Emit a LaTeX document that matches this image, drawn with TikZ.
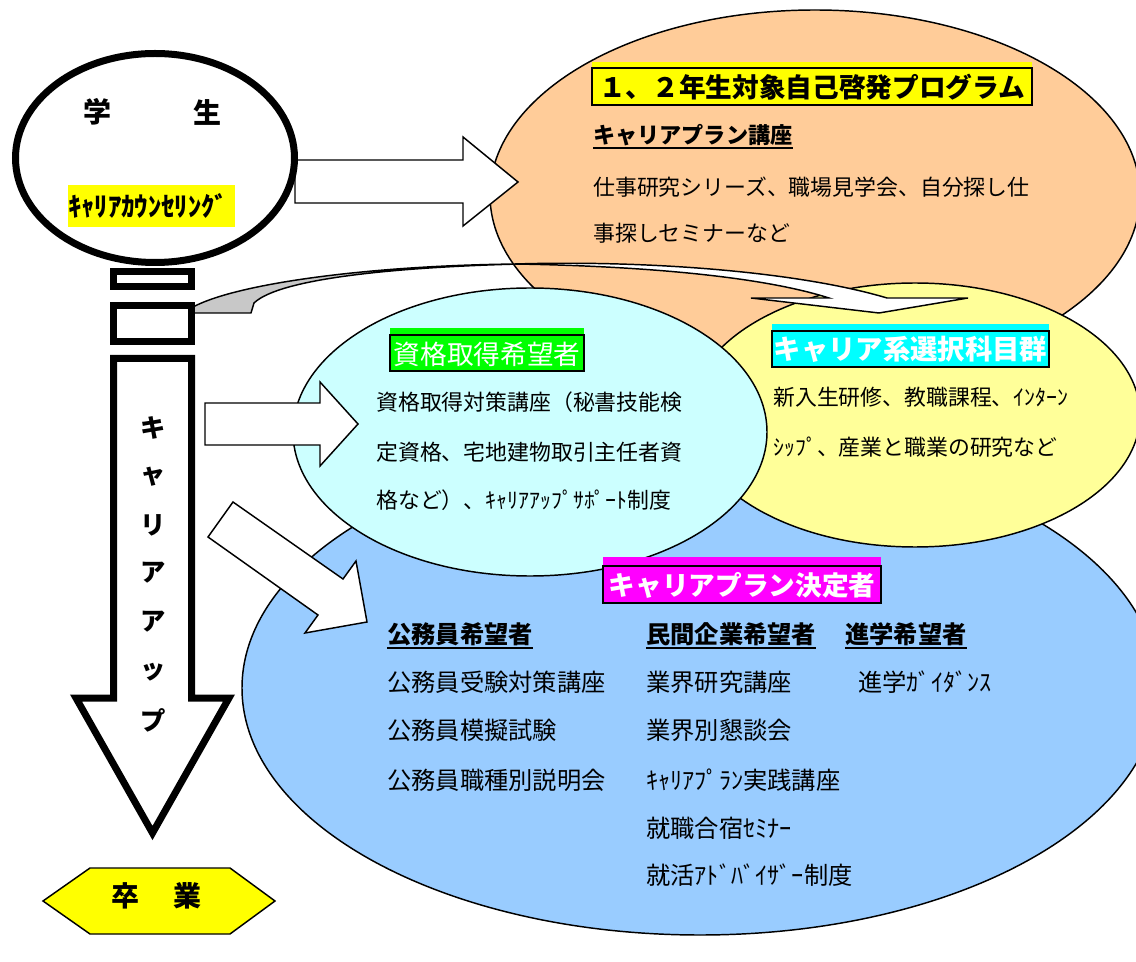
\documentclass[tikz,border=0pt]{standalone}
\usepackage{fontspec}
\setmainfont{Noto Sans CJK JP}
\newcommand\fsz[1]{\fontsize{#1}{#1}\selectfont}
\definecolor{orangeF}{HTML}{FFCC99}
\definecolor{yellowF}{HTML}{FFFF99}
\definecolor{cyanF}{HTML}{CCFFFF}
\definecolor{blueF}{HTML}{99CCFF}
\definecolor{grayF}{HTML}{C8C8C8}
\definecolor{hlYellow}{HTML}{FFFF00}
\definecolor{hlGreen}{HTML}{00FF00}
\definecolor{hlCyan}{HTML}{00FFFF}
\definecolor{hlMagenta}{HTML}{FF00FF}
\tikzset{
  thinln/.style={draw=black, line width=1.1pt},
  thickln/.style={draw=black, line width=5.25pt, line join=miter},
  blockarrow/.style={thinln, fill=white, line join=miter},
  txt/.style={anchor=west, inner sep=0pt, font=\fsz{16.4pt}},
  blue txt/.style={anchor=west, inner sep=0pt, font=\fsz{18.2pt}},
  blue head/.style={anchor=west, inner sep=0pt, font=\fsz{18.2pt}\bfseries},
  title txt/.style={inner sep=0pt, font=\fsz{20pt}\bfseries},
  big txt/.style={inner sep=0pt, font=\fsz{21pt}\bfseries},
  uline/.style={line width=1.5pt},
}
\begin{document}
\begin{tikzpicture}[x=0.75pt,y=-0.75pt]
\useasboundingbox (0,0) rectangle (1136,962);

% ---- ellipses ----
\draw[thinln, fill=orangeF] (815,195) ellipse [x radius=325, y radius=185];
\draw[thinln, fill=blueF] (700,688) ellipse [x radius=458, y radius=247];
\draw[thinln, fill=yellowF] (915,415) ellipse [x radius=225, y radius=132];
\draw[thinln, fill=cyanF] (530,432) ellipse [x radius=237, y radius=144];

% ---- block arrows ----
\draw[blockarrow] (295,160) -- (463,160) -- (463,137) -- (518,182) -- (463,226) -- (463,203) -- (295,203) -- cycle;
\draw[blockarrow] (205,403) -- (320,403) -- (320,382) -- (358,424) -- (320,466) -- (320,445) -- (205,445) -- cycle;
\draw[blockarrow] (233,502) -- (343,579) -- (356,561) -- (367,622) -- (305,633) -- (318,615) -- (208,537) -- cycle;

% ---- curved arrow ----
\draw[thinln, fill=grayF, line join=round] (193,307) .. controls (240,282) and (380,265) .. (520,264)
   .. controls (400,267) and (280,278) .. (254,303) -- (251,313) -- (193,313) -- cycle;
\draw[thinln, fill=white, line join=miter] (515,264) .. controls (650,260) and (800,272) .. (887,298)
   -- (968,298) -- (879,313) -- (751,298) -- (829,298)
   .. controls (760,276) and (640,266) .. (515,264) -- cycle;

% ---- left column: student ----
\draw[thickln, fill=white] (155,158) ellipse [x radius=139.5, y radius=104.5];
\node[big txt] (gaku) at (97,112) {学};
\node[big txt] (sei) at (207,112) {生};
\fill[hlYellow] (68,185) rectangle (235,227);
\node[inner sep=0pt, font=\fsz{20pt}\bfseries] (kc) at (148,206) {ｷｬﾘｱｶｳﾝｾﾘﾝｸﾞ};

\draw[thickln, fill=white] (113.5,271.5) rectangle (191.5,286.5);
\draw[thickln, fill=white] (113.5,305.5) rectangle (191.5,341.5);

\draw[thickln, fill=white] (113.5,358.5) -- (191.5,358.5) -- (191.5,698) -- (229,698)
   -- (152.5,833) -- (76,698) -- (113.5,698) -- cycle;
\node[big txt, font=\fsz{19pt}\bfseries] (v1) at (153,428) {キ};
\node[big txt, font=\fsz{19pt}\bfseries] (v2) at (153,477) {ャ};
\node[big txt, font=\fsz{19pt}\bfseries] (v3) at (153,525) {リ};
\node[big txt, font=\fsz{19pt}\bfseries] (v4) at (153,573) {ア};
\node[big txt, font=\fsz{19pt}\bfseries] (v5) at (153,622) {ア};
\node[big txt, font=\fsz{19pt}\bfseries] (v6) at (153,672) {ッ};
\node[big txt, font=\fsz{19pt}\bfseries] (v7) at (153,720) {プ};

\draw[thinln, fill=hlYellow] (43,901) -- (90,868) -- (230,868) -- (275,901) -- (230,934) -- (90,934) -- cycle;
\node[big txt] (sotsu) at (125,896) {卒};
\node[big txt] (gyo) at (187,896) {業};

% ---- orange ellipse texts ----
\fill[hlYellow] (592,62) rectangle (1032,105);
\draw[line width=1.5pt] (592,68) rectangle (1032,105);
\node[title txt] (otitle) at (812,87) {１、２年生対象自己啓発プログラム};
\node[txt, font=\fsz{16.6pt}\bfseries] (ok) at (593,135) {キャリアプラン講座};
\draw[uline] ([yshift=-1.8pt]ok.south west) -- ([yshift=-1.8pt]ok.south east);
\node[txt] (o1) at (593,187) {仕事研究シリーズ、職場見学会、自分探し仕};
\node[txt] (o2) at (593,233) {事探しセミナーなど};

% ---- cyan ellipse texts ----
\fill[hlGreen] (390,328) rectangle (584,371);
\draw[line width=1.5pt] (390,335) rectangle (584,371);
\node[inner sep=0pt, font=\fsz{20pt}, text=white] (ctitle) at (487,354) {資格取得希望者};
\node[txt] (c1) at (376,402) {資格取得対策講座（秘書技能検};
\node[txt] (c2) at (376,452) {定資格、宅地建物取引主任者資};
\node[txt] (c3) at (376,500) {格など）、ｷｬﾘｱｱｯﾌﾟｻﾎﾟｰﾄ制度};

% ---- yellow ellipse texts ----
\fill[hlCyan] (772,324) rectangle (1049,367);
\draw[line width=1.5pt] (772,331) rectangle (1049,367);
\node[title txt, text=white, font=\fsz{20.5pt}\bfseries] (ytitle) at (910.5,349.5) {キャリア系選択科目群};
\node[txt] (y1) at (773,397) {新入生研修、教職課程、ｲﾝﾀｰﾝ};
\node[txt] (y2) at (773,447) {ｼｯﾌﾟ、産業と職業の研究など};

% ---- blue ellipse texts ----
\fill[hlMagenta] (603,557) rectangle (881,603);
\draw[line width=1.5pt] (603,566) rectangle (881,603);
\node[title txt, text=white] (btitle) at (742,585) {キャリアプラン決定者};

\node[blue head] (h1) at (387,634) {公務員希望者};
\node[blue head] (h2) at (646,634) {民間企業希望者};
\node[blue head] (h3) at (845,634) {進学希望者};
\draw[uline] ([yshift=-1.8pt]h1.south west) -- ([yshift=-1.8pt]h1.south east);
\draw[uline] ([yshift=-1.8pt]h2.south west) -- ([yshift=-1.8pt]h2.south east);
\draw[uline] ([yshift=-1.8pt]h3.south west) -- ([yshift=-1.8pt]h3.south east);

\node[blue txt] (a1) at (387,682) {公務員受験対策講座};
\node[blue txt] (a2) at (387,730) {公務員模擬試験};
\node[blue txt] (a3) at (387,780) {公務員職種別説明会};
\node[blue txt] (b1) at (646,682) {業界研究講座};
\node[blue txt] (b2) at (646,730) {業界別懇談会};
\node[blue txt] (b3) at (646,780) {ｷｬﾘｱﾌﾟﾗﾝ実践講座};
\node[blue txt] (b4) at (646,828) {就職合宿ｾﾐﾅｰ};
\node[blue txt] (b5) at (646,875) {就活ｱﾄﾞﾊﾞｲｻﾞｰ制度};
\node[blue txt] (d1) at (858,682) {進学ｶﾞｲﾀﾞﾝｽ};
\end{tikzpicture}
\end{document}
